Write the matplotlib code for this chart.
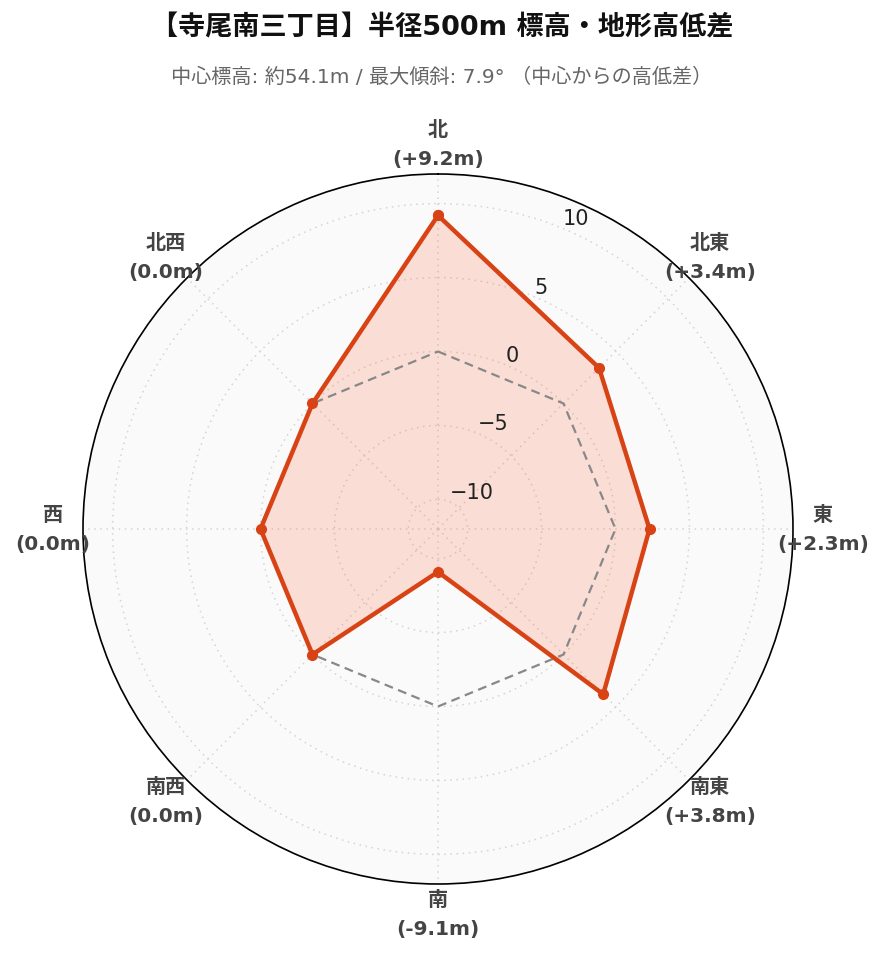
import numpy as np
import matplotlib.pyplot as plt

# directions clockwise from north, elevation difference from centre (m)
directions = ['北', '北東', '東', '南東', '南', '南西', '西', '北西']
diffs = [9.2, 3.4, 2.3, 3.8, -9.1, 0.0, 0.0, 0.0]
baseline = [0, 0, 0, 0, 0, 0, 0, 0]
r_ticks = [-10, -5, 0, 5, 10]
r_range = [-12, 12]

title = '【寺尾南三丁目】半径500m 標高・地形高低差'
subtitle = '中心標高: 約54.1m / 最大傾斜: 7.9° （中心からの高低差）'

plt.rcParams['font.family'] = ['DejaVu Sans', 'Noto Sans CJK JP']

fig = plt.figure(figsize=(8.84, 9.62), dpi=100)
ax = fig.add_axes([83 / 884, 77 / 962, 710 / 884, 710 / 962], projection='polar')
ax.set_theta_zero_location('N')
ax.set_theta_direction(-1)
ax.set_facecolor('#fafafa')

theta = np.deg2rad(np.arange(len(directions)) * 45.0)
th_closed = np.append(theta, theta[0])
vals_closed = np.append(diffs, diffs[0])
base_closed = np.append(baseline, baseline[0])

ax.set_ylim(r_range[0], r_range[1])
ax.set_rorigin(r_range[0])

# gridlines
ax.set_yticks(r_ticks)
ax.set_yticklabels([])
ax.set_xticks(theta)
ax.set_xticklabels([])
ax.grid(True, color='#d4d4d4', linestyle=(0, (1, 3)), linewidth=1.1)
ax.spines['polar'].set_color('black')
ax.spines['polar'].set_linewidth(1.2)

ax.fill(th_closed, vals_closed, color='#ff6a45', alpha=0.2, zorder=2, linewidth=0)
ax.plot(th_closed, base_closed, color='#888888', linestyle=(0, (4, 2.5)),
        linewidth=1.6, zorder=3)
ax.plot(th_closed, vals_closed, color='#d84315', linewidth=3.2, marker='o',
        markersize=7, zorder=4)

# radial tick labels along 22.5 deg
for t in r_ticks:
    ax.text(np.deg2rad(22.5), t, '\u2212' + str(abs(t)) if t < 0 else str(t),
            ha='left', va='bottom', fontsize=15, color='#222222', zorder=5)

# direction labels
label_r = r_range[0] + (r_range[1] - r_range[0]) * 385 / 355
for th, name, d in zip(theta, directions, diffs):
    ax.text(th, label_r, f'{name}\n({d:+.1f}m)'.replace('+0.0', '0.0'),
            ha='center', va='center', fontsize=14.5, fontweight='bold',
            color='#444444', linespacing=1.65, clip_on=False)

fig.text(0.5, 1 - 28 / 962, title, ha='center', va='center', fontsize=19.5,
         fontweight='bold', color='#111111')
fig.text(0.5, 1 - 77 / 962, subtitle, ha='center', va='center', fontsize=14.5,
         color='#666666')

fig.savefig('out.png', dpi=100, facecolor='white')
